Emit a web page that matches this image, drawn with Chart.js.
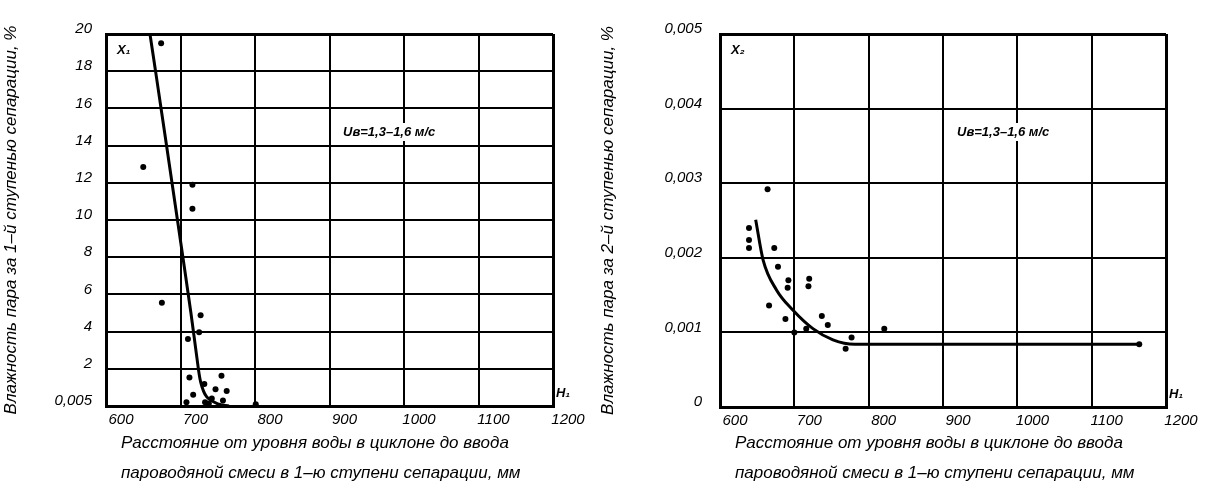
<!DOCTYPE html>
<html>
<head>
<meta charset="utf-8">
<script src="https://cdn.jsdelivr.net/npm/chart.js@4.4.0/dist/chart.umd.min.js"></script>
<style>
body { margin: 0; background: #fff; width: 1208px; height: 492px; overflow: hidden; position: relative; }
#wrap1 { position: absolute; left: 0; top: 0; width: 590px; height: 492px; }
#wrap2 { position: absolute; left: 590px; top: 0; width: 618px; height: 492px; }
</style>
</head>
<body>
<div id="wrap1"><canvas id="chart1"></canvas></div>
<div id="wrap2"><canvas id="chart2"></canvas></div>
<script>
// Left chart: moisture after 1st separation stage (X1) vs distance H1
const h1Measured = [674, 650, 716, 716, 675, 727, 725, 710, 712, 732, 755, 747, 762, 717, 708, 733, 742, 757, 738, 801];
const x1Measured = [19.5, 12.85, 11.9, 10.6, 5.55, 4.88, 3.96, 3.6, 1.53, 1.18, 1.62, 0.9, 0.81, 0.61, 0.2, 0.2, 0.4, 0.3, 0.14, 0.1];
const h1Curve = [659, 668, 682, 697, 714, 722, 727, 735, 750, 765];
const x1Curve = [20, 17.6, 13.8, 9.7, 5, 2.6, 1.3, 0.5, 0.12, 0];

// Right chart: moisture after 2nd separation stage (X2) vs distance H1
const h2Measured = [664, 639, 639, 639, 673, 678, 692, 691, 720, 719, 666, 688, 737, 745, 700, 716, 777, 769, 821, 1164];
const x2Measured = [0.00292, 0.0024, 0.00224, 0.00213, 0.00213, 0.00188, 0.0017, 0.0016, 0.00172, 0.00162, 0.00136, 0.00118, 0.00122, 0.0011, 0.001, 0.00105, 0.00093, 0.00078, 0.00105, 0.00084];
const h2Curve = [648, 658, 676, 698, 725, 752, 781, 1164];
const x2Curve = [0.00251, 0.00197, 0.00157, 0.0013, 0.00105, 0.0009, 0.00084, 0.00084];

const xTitleLines = ['Расстояние от уровня воды в циклоне до ввода', 'пароводяной смеси в 1–ю ступени сепарации, мм'];
const velocityNote = 'Uв=1,3–1,6 м/с';

const FONT = '"Liberation Sans", "DejaVu Sans", sans-serif';

// Helper to zip two arrays into {x, y} points
function toPoints(xs, ys) {
    return xs.map((x, i) => ({ x: x, y: ys[i] }));
}

// Draws the free texts: series name, axis name, velocity note and x title
function notesPlugin(seriesName, axisName) {
    return {
        id: 'notes',
        afterDraw(chart) {
            const ctx = chart.ctx;
            const a = chart.chartArea;
            ctx.save();
            ctx.fillStyle = '#000';
            ctx.textBaseline = 'middle';
            ctx.font = 'italic bold 13px ' + FONT;
            ctx.fillText(seriesName, a.left + 11, a.top + 16);
            ctx.fillText(axisName, a.right + 3, a.bottom - 13);

            ctx.font = 'italic bold 13px ' + FONT;
            const w = ctx.measureText(velocityNote).width;
            ctx.fillStyle = '#fff';
            ctx.fillRect(a.left + 234, a.top + 89, w + 6, 18);
            ctx.fillStyle = '#000';
            ctx.fillText(velocityNote, a.left + 237, a.top + 98);

            ctx.font = 'italic 17px ' + FONT;
            ctx.fillText(xTitleLines[0], a.left + 15, 443);
            ctx.fillText(xTitleLines[1], a.left + 15, 473);
            ctx.restore();
        }
    };
}

function makeChart(id, cfg) {
    const edge = c => (c.index === 0 || c.tick.value === cfg.yMax) ? 3 : 2;
    const edgeX = c => (c.index === 0 || c.tick.value === 1200) ? 3 : 2;
    return new Chart(document.getElementById(id), {
        type: 'scatter',
        data: {
            datasets: [
                {
                    data: toPoints(cfg.hPts, cfg.xPts),
                    pointRadius: 3,
                    pointBackgroundColor: '#000',
                    pointBorderWidth: 0,
                    clip: 5
                },
                {
                    data: toPoints(cfg.hCurve, cfg.xCurve),
                    showLine: true,
                    pointRadius: 0,
                    borderColor: '#000',
                    borderWidth: 3,
                    tension: cfg.tension,
                    cubicInterpolationMode: cfg.interp,
                    clip: 3
                }
            ]
        },
        options: {
            responsive: true,
            maintainAspectRatio: false,
            animation: false,
            events: [],
            layout: { padding: { top: 34, right: cfg.padRight, bottom: 0, left: 0 } },
            plugins: { legend: { display: false }, tooltip: { enabled: false } },
            scales: {
                x: {
                    type: 'linear',
                    min: 600,
                    max: 1200,
                    afterFit: s => { s.height = cfg.xHeight; },
                    ticks: {
                        stepSize: 100,
                        color: '#000',
                        padding: 5,
                        labelOffset: 15,
                        maxRotation: 0,
                        font: { family: FONT, size: 15, style: 'italic' },
                        callback: v => String(v)
                    },
                    grid: { color: '#000', lineWidth: edgeX, drawTicks: false },
                    border: { color: '#000', width: 3 }
                },
                y: {
                    type: 'linear',
                    min: 0,
                    max: cfg.yMax,
                    afterFit: s => { s.width = cfg.yWidth; },
                    ticks: {
                        stepSize: cfg.yStep,
                        color: '#000',
                        padding: cfg.yPad,
                        labelOffset: -5,
                        font: { family: FONT, size: 15, style: 'italic' },
                        callback: cfg.yFormat
                    },
                    grid: { color: '#000', lineWidth: edge, drawTicks: false },
                    border: { color: '#000', width: 3 },
                    title: {
                        display: true,
                        text: cfg.yTitle,
                        color: '#000',
                        padding: { top: cfg.yTitlePad, bottom: 0 },
                        font: { family: FONT, size: 17, style: 'italic', lineHeight: 1.2 }
                    }
                }
            }
        },
        plugins: [notesPlugin(cfg.series, 'H₁')]
    });
}

makeChart('chart1', {
    hPts: h1Measured, xPts: x1Measured, hCurve: h1Curve, xCurve: x1Curve,
    yMax: 20, yStep: 2, yWidth: 106, yPad: 14, yTitlePad: 1,
    xHeight: 86, padRight: 37, tension: 0.3, interp: 'default',
    yFormat: v => v === 0 ? '0,005' : String(v),
    yTitle: 'Влажность пара за 1–й ступенью сепарации, %',
    series: 'X₁'
});

makeChart('chart2', {
    hPts: h2Measured, xPts: x2Measured, hCurve: h2Curve, xCurve: x2Curve,
    yMax: 0.005, yStep: 0.001, yWidth: 130, yPad: 18, yTitlePad: 8,
    xHeight: 85, padRight: 42, tension: 0.4, interp: 'monotone',
    yFormat: v => v === 0 ? '0' : v.toFixed(3).replace('.', ','),
    yTitle: 'Влажность пара за 2–й ступенью сепарации, %',
    series: 'X₂'
});
</script>
</body>
</html>
